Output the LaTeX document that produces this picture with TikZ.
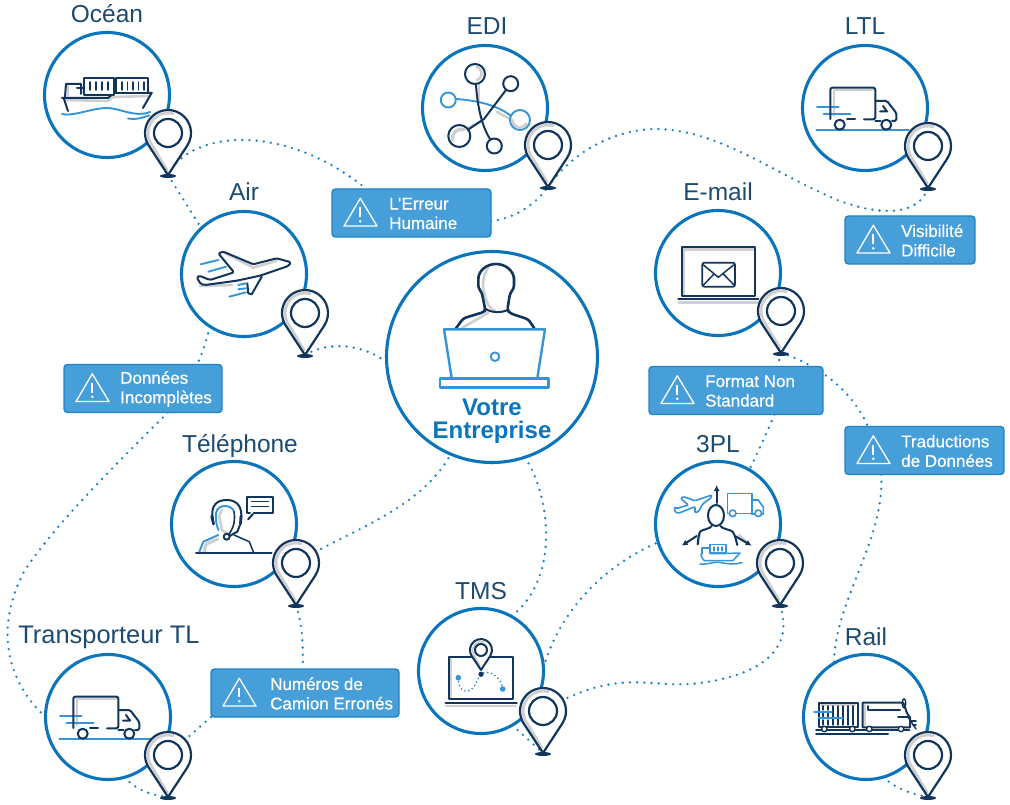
\documentclass[tikz,border=0pt]{standalone}
\usepackage{fontspec}
\setmainfont{Liberation Sans}
\newfontfamily\calfont[RawFeature={embolden=0.6}]{Liberation Sans}
\usetikzlibrary{arrows.meta}
\definecolor{hubc}{HTML}{0A75BD}
\definecolor{navyc}{HTML}{12355B}
\definecolor{lbc}{HTML}{3595D6}
\definecolor{gryc}{HTML}{CFCFCF}
\definecolor{labc}{HTML}{1C4A70}
\definecolor{calf}{HTML}{479FD9}
\definecolor{cald}{HTML}{1E83C7}
\definecolor{dotc}{HTML}{1A80C4}
\pgfdeclarelayer{bg}
\pgfsetlayers{bg,main}
\tikzset{
  hub/.style={circle,draw=hubc,fill=white,line width=3.1pt,inner sep=0pt,outer sep=0pt},
  lab/.style={text=labc,font=\fontsize{24.5}{28}\selectfont,anchor=base,inner sep=0pt},
  conn/.style={draw=dotc,line width=2.6pt,line cap=round,dash pattern=on 0pt off 7.2pt},
  calloutbox/.style={rectangle,rounded corners=3.5pt,fill=calf,draw=cald,line width=1.4pt,inner sep=0pt,outer sep=0pt,anchor=north west},
  calltext/.style={text=white,font=\calfont\fontsize{17}{19.5}\selectfont,align=left,anchor=west,inner sep=0pt},
  nv/.style={draw=navyc,line width=2pt,line join=round,line cap=round},
  lb/.style={draw=lbc,line width=1.9pt,line join=round,line cap=round},
  gy/.style={draw=gryc,line width=2.6pt,line join=round,line cap=round},
  pin/.pic={
    \fill[white] (0,0) -- (19.25,-29.4) arc[start angle=33.2,end angle=-213.2,radius=23] -- cycle;
    \draw[gy,line width=2.8pt] (5.2,-61.3) arc[start angle=-75,end angle=-213,radius=20] -- (-1,-5);
    \draw[nv,line width=2.2pt] (0,0) -- (19.25,-29.4) arc[start angle=33.2,end angle=-213.2,radius=23] -- cycle;
    \draw[nv,line width=2.2pt,fill=white] (0,-42) circle[radius=14];
    \fill[navyc] (0,1) ellipse[x radius=8,y radius=2];
    \coordinate (-tip) at (0,0);
    \coordinate (-head) at (0,-42);
  },
  truck/.pic={
    \draw[gy] (-31,-18) -- (8,-18);
    \draw[gy] (-31,-18) -- (-31,8);
    \draw[lb] (-48.7,21.7) -- (43.7,21.7);
    \draw[lb] (-48,-1) -- (-26.3,-1);
    \draw[lb] (-41.3,6.3) -- (-14.7,6.3);
    \draw[nv,rounded corners=2pt] (-34.7,11) -- (-34.7,-20.3) -- (10.3,-20.3) -- (10.3,11.3) -- (-1,11.3);
    \draw[nv] (-10,11.3) -- (-18,11.3);
    \draw[nv,rounded corners=1.5pt] (10.3,-7) -- (22,-7) -- (31.3,5) -- (31.3,13) -- (27,13);
    \draw[nv] (10.3,13) -- (15.5,13);
    \draw[nv] (15,3.5) -- (22,3.5) -- (18,-2);
    \draw[nv,fill=white] (-25.3,16.7) circle[radius=5];
    \draw[nv,fill=white] (21.3,16.7) circle[radius=5];
  }
}
\newcommand{\callbox}[7]{%
  \node[calloutbox,minimum width=#4pt,minimum height=48pt] (#1) at (#2,#3) {};
  \begin{scope}[shift={(#1.north west)}]
    \draw[white,line width=1.3pt,line join=round] (12,37) -- (45,37) -- (28.3,9.3) -- cycle;
    \draw[white,line width=2.2pt] (28.3,18.5) -- (28.3,28);
    \fill[white] (28.3,32.3) circle[radius=1.4];
    \node[calltext] (#1t) at (#5,24.5) {#6\\#7};
  \end{scope}
}
\begin{document}
\begin{tikzpicture}[x=1pt,y=-1pt]
\useasboundingbox (0,0) rectangle (1010,805);

% hub circles
\node[hub,minimum size=125pt] (ocean) at (107,95) {};
\node[hub,minimum size=125pt] (edi) at (485,108) {};
\node[hub,minimum size=125pt] (ltl) at (865,108) {};
\node[hub,minimum size=125pt] (air) at (244,274) {};
\node[hub,minimum size=125pt] (email) at (718,273) {};
\node[hub,minimum size=125pt] (tel) at (234,524) {};
\node[hub,minimum size=125pt] (tpl) at (718,524) {};
\node[hub,minimum size=125pt] (tms) at (481,671) {};
\node[hub,minimum size=125pt] (trans) at (108,717) {};
\node[hub,minimum size=125pt] (rail) at (866,717) {};
\node[hub,minimum size=211pt] (ent) at (492,357) {};

% labels
\node[lab] (locean) at (107,23) {Océan};
\node[lab] (ledi) at (487,35) {EDI};
\node[lab] (lltl) at (865,35) {LTL};
\node[lab] (lair) at (244,201) {Air};
\node[lab] (lemail) at (718,201) {E-mail};
\node[lab] (ltel) at (240,452) {Téléphone};
\node[lab] (ltpl) at (718,452) {3PL};
\node[lab] (ltms) at (481,599) {TMS};
\node[lab] (lrail) at (866,645) {Rail};
\node[lab,font=\fontsize{25.4}{28}\selectfont] (ltrans) at (109,643) {Transporteur TL};

% ship icon
\draw[lb] (62,114) .. controls (72,117) and (92,108) .. (107,108) .. controls (120,108) and (135,118) .. (150,112);
\draw[lb] (128,118.5) .. controls (135,120) and (142,118) .. (149,115.5);
\draw[gy] (66,100) -- (108,101) -- (113,97) -- (150,96);
\draw[gy] (68,86) -- (68,96);
\draw[nv] (62,98) -- (108,98) -- (114,93) -- (152,93);
\draw[nv] (64,99) -- (68,111);
\draw[nv] (151,94) -- (143,108);
\draw[nv] (65,97) -- (66,84) -- (81,84) -- (81,94);
\draw[nv] (77,88) -- (84,88);
\draw[nv,fill=white] (83.5,78) rectangle (114,95);
\draw[nv,fill=white] (116,78) rectangle (148,93);
\foreach \x in {90,96,102,108,122,127.5,133,138.5,144}
  \draw[nv,line width=1.4pt] (\x,82) -- (\x,90);

% EDI icon
\draw[gy] (479,85) -- (479,100);
\draw[gy] (497,112) -- (512,120);
\draw[gy] (468,128) -- (480,122);
\draw[lb] (456,99) .. controls (470,100) and (495,103) .. (511,116);
\draw[nv] (476,85) .. controls (477,100) and (480,123) .. (490,139);
\draw[nv] (506,90) -- (484,119) -- (469,129);
\draw[nv,fill=white] (475,74) circle[radius=10];
\draw[gy] (477,67) arc[start angle=-70,end angle=70,radius=7];
\draw[nv,fill=white] (510.7,83.7) circle[radius=7.5];
\draw[lb,fill=white] (448.3,100) circle[radius=7.5];
\draw[lb,fill=white] (520,120) circle[radius=10];
\draw[gy,line width=3pt] (512.5,120) arc[start angle=180,end angle=30,radius=7.5];
\draw[nv,fill=white] (459.3,136) circle[radius=11];
\draw[gy,line width=3.4pt] (452.7,140) .. controls (452,131) and (458,128) .. (464,129.7);
\draw[nv,fill=white] (494.3,146) circle[radius=7.5];

% truck icons
\pic (ptrans) at (108,717) {truck};
\pic (pltl) at (865,108) {truck};

% plane icon
\draw[gy] (225,253) -- (253.3,267.7) -- (276.7,260.7);
\draw[gy] (200,286) -- (232,285);
\draw[nv,rounded corners=1.5pt] (291,262.3) -- (276.7,258.3) -- (253.3,264.3) -- (223.3,251.7) -- (218.3,253.3) -- (234,272.3) -- (210,280) -- (199.3,275.7) -- (196.7,277.3) -- (200.7,284) -- (205,285) -- (236.7,280.7) -- (260,275.7) -- (288.3,266) -- cycle;
\draw[nv] (247.3,283.3) -- (248.3,293.3) -- (251.7,294.3) -- (261.7,276.7);
\foreach \a/\b/\c/\d in {200.7/264.3/218.3/260,208.3/271.7/226/266.7,238.3/285/246/283.3,238.3/289.3/246/288.3,229.3/296.7/246/292.3}
  \draw[lb] (\a,\b) -- (\c,\d);

% email icon
\draw[gy] (684,249.5) -- (753,249.5);
\draw[gy] (684,249.5) -- (684,294);
\draw[gy] (679,302.5) -- (758,302.5);
\draw[nv] (681.7,247.3) rectangle (755,296);
\draw[nv,line width=2.2pt] (678.3,299.3) -- (758.3,299.3);
\draw[nv,rounded corners=2pt,line width=1.7pt] (702.3,262.7) rectangle (735,286.7);
\draw[nv,line width=1.5pt] (703.5,265) -- (718.3,277.3) -- (733.5,265);
\draw[nv,line width=1.5pt] (703.5,285) -- (714,274);
\draw[nv,line width=1.5pt] (734,285) -- (723.3,274);

% center person and laptop
\draw[gy,line width=2.6pt] (488,268) .. controls (483,275) and (482,285) .. (484,292) .. controls (486,300) and (488,308) .. (495,311);
\draw[gy,line width=2.6pt] (488,313) -- (462,328);
\draw[nv,line width=2.6pt,rounded corners=3pt] (456,328.3) -- (463.3,318.3) -- (485,311.7) -- (485,308.3) -- (481.7,292) -- (478.3,288.3) -- (478.3,278.3);
\draw[nv,line width=2.6pt] (478.3,278.3) .. controls (479,270) and (487,264) .. (496,264) .. controls (505,264) and (513,270) .. (514,278.3);
\draw[nv,line width=2.6pt,rounded corners=3pt] (514,278.3) -- (514,288.3) -- (510,293.3) -- (507.3,310) -- (510,313.3) -- (528.3,319.3) -- (534.3,328.3);
\draw[nv,line width=2pt] (485,308.3) .. controls (490,313) and (502,313) .. (507.3,310);
\draw[lb,line width=2.4pt] (444,329.3) -- (545,329.3) -- (537.3,378.3) -- (451.7,378.3) -- cycle;
\draw[lb,line width=2.4pt] (440,378.3) rectangle (548.3,387.3);
\draw[lb] (495,356.7) circle[radius=4.3];
\node[text=hubc,font=\fontsize{24}{23}\selectfont\bfseries,align=center,anchor=base,inner sep=0pt] (ename) at (492,438) {Votre\\Entreprise};

% telephone icon
\draw[gy] (222,510) -- (219,516) -- (222,530) -- (228,534);
\draw[gy,line width=3pt] (204,553) -- (206,544) -- (218,539);
\draw[lb] (199.3,551.7) -- (203.3,541.7) -- (218.3,535);
\draw[lb] (218.5,530) .. controls (216,525) and (215.5,517) .. (216,513) .. controls (217,508) and (221,506) .. (225,506) .. controls (229,506) and (233,508) .. (234,511.7);
\draw[nv,line width=1.6pt] (234,511.7) .. controls (235.5,520) and (234,527) .. (229,534);
\draw[nv,line width=1.5pt] (253.3,551.7) -- (249.3,541.7) -- (234,535);
\draw[nv] (213,520) .. controls (210,505) and (217,500) .. (227,500) .. controls (237,500) and (243,507) .. (241,520);
\draw[nv,line width=2.8pt] (211.8,516) -- (213.5,524);
\draw[nv,line width=2.8pt] (241,516) -- (240.5,524);
\draw[nv] (240,525) -- (237.3,531.7) -- (229.5,536);
\draw[nv,fill=white] (226.7,536.7) circle[radius=3];
\draw[nv,line width=2pt] (196,553) -- (271.7,553);
\draw[nv] (253.5,512.7) -- (273.3,512.7) -- (273.3,496.7) -- (247.3,496.7) -- (247.3,512.7) -- (250,512.7);
\draw[nv] (253,514) -- (248,519.5);
\draw[nv,line width=1.5pt] (251.7,501.7) -- (268.3,501.7);
\draw[nv,line width=1.5pt] (251.7,506.7) -- (268.3,506.7);

% 3PL icon
\draw[lb,rounded corners=1pt,line width=1.6pt] (711.7,495) -- (695,500.7) -- (683.3,496.7) -- (680.7,498.3) -- (688.3,505) -- (677.3,508.3) -- (674.3,507.3) -- (675,511.7) -- (678.3,513.3) -- (695,506.7) -- (695,512.7) -- (698.3,511.7) -- (703.3,503.3) -- (710.7,498.3) -- cycle;
\draw[lb,line width=1.6pt] (729.3,513.3) -- (727.3,513.3) -- (727.3,493.3) -- (751.7,493.3) -- (751.7,513.3) -- (736,513.3);
\draw[lb,line width=1.6pt] (751.7,500) -- (758.3,500) -- (763.3,507.3) -- (763.3,514) -- (761.5,514);
\draw[lb,line width=1.6pt] (751.7,514) -- (755,514);
\draw[lb,line width=1.6pt] (732.7,513.3) circle[radius=3.3];
\draw[lb,line width=1.6pt] (758.3,513.3) circle[radius=3.3];
\draw[gy] (700,534) -- (698,544);
\draw[gy] (739,535) -- (748,544);
\draw[nv] (716,515.5) ellipse[x radius=8,y radius=10.5];
\draw[nv] (711.7,526) .. controls (710,529) and (702,529.5) .. (700,531.7) .. controls (698.5,535) and (698,540) .. (697.7,544.3);
\draw[nv] (720.5,526) .. controls (722,529) and (730,529.5) .. (732.7,531.7) .. controls (735,535) and (736,540) .. (737.3,545);
\draw[nv,-{Latex[length=6pt,width=6pt]}] (716.7,503) -- (716.7,485);
\draw[nv,-{Latex[length=6pt,width=6pt]}] (696.7,536) -- (681.7,545.7);
\draw[nv,-{Latex[length=6pt,width=6pt]}] (735,536) -- (751.7,545.7);
\draw[lb,line width=1.5pt] (701,554) -- (701.5,557) -- (704,560.5) -- (733,560.5) -- (740,553) -- (725,553.5) -- (710,553.5);
\draw[lb,line width=1.5pt] (710,553) rectangle (726,544.5);
\draw[lb,line width=1.5pt] (702,554) -- (702,548) -- (710,548);
\draw[lb,line width=1.2pt] (714,547) -- (714,551) (718,547) -- (718,551) (722,547) -- (722,551);
\draw[lb,line width=1.5pt] (700,564) .. controls (708,565) and (712,561.5) .. (720,562.5) .. controls (728,564) and (735,565) .. (742,562.5);

% TMS icon
\draw[gy] (446,706) -- (516,706);
\draw[gy] (451,659) -- (451,697);
\draw[nv] (449,656.7) rectangle (513.3,699.3);
\draw[nv,line width=2.2pt] (445.7,703.3) -- (516.7,703.3);
\draw[dotc,line width=1.8pt,line cap=round,dash pattern=on 0pt off 4pt] (458.3,677.7) .. controls (458,692) and (467,694) .. (473,688) .. controls (478,682) and (478,674) .. (485,672.5) .. controls (493,671) and (502,680) .. (502.7,689);
\fill[lbc] (458.3,677.7) circle[radius=2.8];
\fill[lbc] (502.7,689) circle[radius=2.8];
\fill[white] (481,670) -- (490.5,655.5) arc[start angle=30,end angle=-210,radius=11] -- cycle;
\draw[gy,line width=1.8pt] (484,642) arc[start angle=-75,end angle=-205,radius=9] -- (480,666);
\draw[nv] (481,670) -- (490.5,655.5) arc[start angle=30,end angle=-210,radius=11] -- cycle;
\draw[nv] (481,650) circle[radius=6];
\fill[navyc] (481,674.3) circle[radius=2.6];

% rail icon
\draw[gy] (821,705) -- (855,705);
\draw[gy] (865,705) -- (865,725);
\draw[nv] (819,702.7) rectangle (857.7,727.3);
\foreach \x in {833,838,843,848,853} \draw[nv,line width=1.4pt] (\x,706) -- (\x,725);
\foreach \x in {823,828} { \draw[nv,line width=1.4pt] (\x,706) -- (\x,710); \draw[nv,line width=1.4pt] (\x,713.5) -- (\x,716.5); \draw[nv,line width=1.4pt] (\x,720) -- (\x,725); }
\draw[lb] (814,711.7) -- (831.7,711.7);
\draw[lb] (818.3,718.3) -- (842.7,718.3);
\draw[nv] (862.7,702.7) -- (903.3,702.7) -- (907,713) -- (910,718) -- (910,727.3) -- (862.7,727.3) -- cycle;
\draw[nv] (868.3,706) -- (868.3,710) -- (900,710);
\draw[nv] (898,716.7) -- (910,716.7);
\draw[nv,line width=1.4pt] (904,703.3) ellipse[x radius=1.8,y radius=4.5];
\draw[nv,line width=1.4pt] (908,717) -- (916,729);
\draw[nv,line width=1.4pt] (911,721) -- (916,721) (913,725) -- (916,725);
\draw[nv] (816,730) -- (909.3,730);
\draw[nv] (816,734) -- (888,734);
\foreach \x in {824.3,852.3,869.3,901} \draw[nv,fill=white,line width=1.4pt] (\x,729) circle[radius=2.7];

% callouts
\callbox{err}{332}{189}{159}{57}{L’Erreur}{Humaine}
\callbox{vis}{845}{216}{130}{56}{Visibilité}{Difficile}
\callbox{don}{64}{364.5}{158}{56}{Données}{Incomplètes}
\callbox{fmt}{649}{366.5}{174}{56}{Format Non}{Standard}
\callbox{trd}{845}{426.5}{159}{56}{Traductions}{de Données}
\callbox{num}{211}{669}{188}{59}{Numéros de}{Camion Erronés}

% pins
\pic (pocean) at (168,175) {pin};
\pic (pedi) at (548,187) {pin};
\pic (pltlp) at (928,188) {pin};
\pic (pair) at (305,355) {pin};
\pic (pemail) at (781,353) {pin};
\pic (ptel) at (296,605) {pin};
\pic (ptpl) at (780,605) {pin};
\pic (ptms) at (543,753) {pin};
\pic (ptr) at (168,797) {pin};
\pic (prail) at (928,797) {pin};

% connectors
\begin{pgfonlayer}{bg}
\draw[conn] (pocean-tip) .. controls (190,130) and (285,122) .. (err.152);
\draw[conn] (pocean-tip) -- (air.133);
\draw[conn] (err.-6) .. controls (515,218) and (535,205) .. (pedi-tip);
\draw[conn] (pedi-tip) .. controls (570,155) and (610,130) .. (655,129) .. controls (715,129) and (770,170) .. (822,193) .. controls (855,210) and (915,225) .. (pltlp-tip);
\draw[conn] (pair-tip) .. controls (330,340) and (365,345) .. (ent.183);
\draw[conn] (air.237) .. controls (205,345) and (202,355) .. (don.24);
\draw[conn] (don.-44) .. controls (110,470) and (55,525) .. (25,570) .. controls (-5,625) and (5,680) .. (trans.180);
\draw[conn] (ptel-head) .. controls (350,530) and (420,510) .. (ent.247);
\draw[conn] (ptel-tip) .. controls (303,625) and (303,650) .. (num.95);
\draw[conn] (num.south west) -- (ptr-head);
\draw[conn] (trans.-75) .. controls (137,790) and (150,795) .. (ptr-tip);
\draw[conn] (ent.-72) .. controls (548,490) and (563,576) .. (tms.61);
\draw[conn] (tms.3) .. controls (560,610) and (605,565) .. (tpl.197);
\draw[conn] (ptpl-tip) .. controls (795,650) and (760,675) .. (700,683) .. controls (650,690) and (620,665) .. (ptms-head);
\draw[conn] (tms.-60) -- (ptms-tip);
\draw[conn] (pemail-tip) -- (fmt.30);
\draw[conn] (pemail-tip) .. controls (810,362) and (850,385) .. (trd.157);
\draw[conn] (fmt.-32) .. controls (768,430) and (760,448) .. (tpl.60);
\draw[conn] (trd.209) .. controls (885,540) and (835,600) .. (rail.121);
\draw[conn] (rail.-74) .. controls (895,788) and (910,794) .. (prail-tip);
\end{pgfonlayer}
\end{tikzpicture}
\end{document}
